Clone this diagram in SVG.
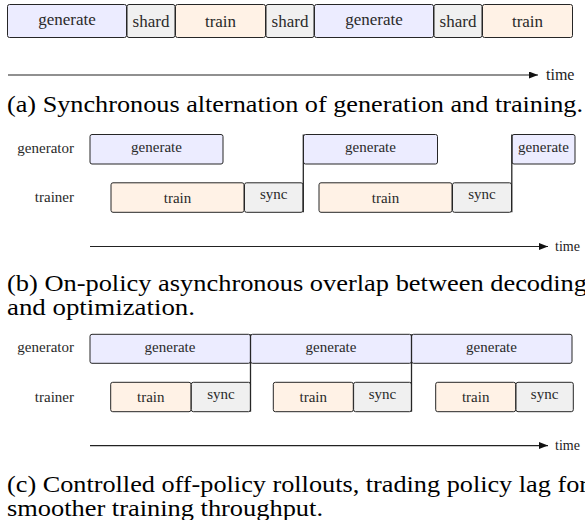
<svg xmlns="http://www.w3.org/2000/svg" width="585" height="520" viewBox="0 0 585 520">
<style>
  .box { stroke: #262626; stroke-width: 1; }
  .gen { fill: #ECECFF; }
  .trn { fill: #FFF2E6; }
  .sh  { fill: #F0F0F0; }
  text { font-family: 'Liberation Serif', 'DejaVu Serif', serif; }
  .lbl { fill: #2a2a2a; text-anchor: middle; }
  .la  { font-size: 17px; }
  .lb  { font-size: 15px; }
  .row { fill: #2a2a2a; font-size: 15px; text-anchor: end; }
  .time { fill: #222; }
  .cap { fill: #000; font-size: 24px; }
  .axis { stroke: #222; stroke-width: 1.1; fill: none; }
  .link { stroke: #262626; stroke-width: 1.3; fill: none; }
</style>
<defs>
  <marker id="arr" markerUnits="userSpaceOnUse" markerWidth="10" markerHeight="8" refX="9" refY="3.5" orient="auto">
    <path d="M0,0 L9,3.5 L0,7 z" fill="#111"/>
  </marker>
</defs>

<!-- Panel (a) -->
<g id="a-gen1"><rect class="box gen" x="7.5" y="4.5" width="119" height="33" rx="2"/><text class="lbl la" x="67" y="24.5">generate</text></g>
<g id="a-shard1"><rect class="box sh" x="127" y="4.5" width="48" height="33" rx="2"/><text class="lbl la" x="151" y="26.6">shard</text></g>
<g id="a-train1"><rect class="box trn" x="175.5" y="4.5" width="90" height="33" rx="2"/><text class="lbl la" x="220.5" y="26.6">train</text></g>
<g id="a-shard2"><rect class="box sh" x="266" y="4.5" width="48" height="33" rx="2"/><text class="lbl la" x="290" y="26.6">shard</text></g>
<g id="a-gen2"><rect class="box gen" x="314.5" y="4.5" width="119" height="33" rx="2"/><text class="lbl la" x="374" y="24.5">generate</text></g>
<g id="a-shard3"><rect class="box sh" x="434" y="4.5" width="48" height="33" rx="2"/><text class="lbl la" x="458" y="26.6">shard</text></g>
<g id="a-train2"><rect class="box trn" x="482.5" y="4.5" width="90" height="33" rx="2"/><text class="lbl la" x="527.5" y="26.6">train</text></g>
<g id="a-axis">
  <line class="axis" x1="8" y1="75" x2="538" y2="75" marker-end="url(#arr)"/>
  <text class="time" x="546" y="80" font-size="16">time</text>
</g>
<text class="cap" x="7" y="112" textLength="576" lengthAdjust="spacingAndGlyphs">(a) Synchronous alternation of generation and training.</text>

<!-- Panel (b) -->
<text class="row" x="74" y="152.5">generator</text>
<text class="row" x="74" y="202.3">trainer</text>
<g id="b-gen1"><rect class="box gen" x="90" y="134.5" width="133" height="29.5" rx="2"/><text class="lbl lb" x="156.5" y="152">generate</text></g>
<g id="b-train1"><rect class="box trn" x="111" y="182.8" width="133" height="29.5" rx="2"/><text class="lbl lb" x="177.5" y="202.5">train</text></g>
<g id="b-sync1"><rect class="box sh" x="244.5" y="182.8" width="58.5" height="29.5" rx="2"/><text class="lbl lb" x="273.7" y="199.2">sync</text></g>
<g id="b-gen2"><rect class="box gen" x="303.5" y="134.5" width="134" height="29.5" rx="2"/><text class="lbl lb" x="370.5" y="152">generate</text></g>
<g id="b-train2"><rect class="box trn" x="319" y="182.8" width="133" height="29.5" rx="2"/><text class="lbl lb" x="385.5" y="202.5">train</text></g>
<g id="b-sync2"><rect class="box sh" x="452.5" y="182.8" width="59" height="29.5" rx="2"/><text class="lbl lb" x="482" y="199.2">sync</text></g>
<g id="b-gen3"><rect class="box gen" x="512" y="134.5" width="63" height="29.5" rx="2"/><text class="lbl lb" x="543.5" y="152">generate</text></g>
<g id="b-axis">
  <line class="axis" x1="90" y1="246.5" x2="548" y2="246.5" marker-end="url(#arr)"/>
  <text class="time" x="555" y="251" font-size="14">time</text>
</g>
<text class="cap" x="7" y="291" textLength="580" lengthAdjust="spacingAndGlyphs">(b) On-policy asynchronous overlap between decoding</text>
<text class="cap" x="7" y="315" textLength="188" lengthAdjust="spacingAndGlyphs">and optimization.</text>

<!-- Panel (c) -->
<text class="row" x="74" y="351.8">generator</text>
<text class="row" x="74" y="401.8">trainer</text>
<g id="c-gen1"><rect class="box gen" x="90" y="334.3" width="160.5" height="29" rx="2"/><text class="lbl lb" x="170" y="351.5">generate</text></g>
<g id="c-gen2"><rect class="box gen" x="250.5" y="334.3" width="161" height="29" rx="2"/><text class="lbl lb" x="331" y="351.5">generate</text></g>
<g id="c-gen3"><rect class="box gen" x="411.5" y="334.3" width="160.5" height="29" rx="2"/><text class="lbl lb" x="491.5" y="351.5">generate</text></g>
<g id="c-train1"><rect class="box trn" x="110.7" y="382.3" width="80.3" height="29.4" rx="2"/><text class="lbl lb" x="150.8" y="402">train</text></g>
<g id="c-sync1"><rect class="box sh" x="191.3" y="382.3" width="59.2" height="29.4" rx="2"/><text class="lbl lb" x="220.9" y="398.7">sync</text></g>
<g id="c-train2"><rect class="box trn" x="273.3" y="382.3" width="80" height="29.4" rx="2"/><text class="lbl lb" x="313.3" y="402">train</text></g>
<g id="c-sync2"><rect class="box sh" x="353.6" y="382.3" width="57.9" height="29.4" rx="2"/><text class="lbl lb" x="382.5" y="398.7">sync</text></g>
<g id="c-train3"><rect class="box trn" x="435.7" y="382.3" width="80" height="29.4" rx="2"/><text class="lbl lb" x="475.7" y="402">train</text></g>
<g id="c-sync3"><rect class="box sh" x="516" y="382.3" width="57.3" height="29.4" rx="2"/><text class="lbl lb" x="544.6" y="398.7">sync</text></g>
<g id="c-axis">
  <line class="axis" x1="90" y1="445.6" x2="548" y2="445.6" marker-end="url(#arr)"/>
  <text class="time" x="555" y="450" font-size="14">time</text>
</g>
<text class="cap" x="7" y="492" textLength="581" lengthAdjust="spacingAndGlyphs">(c) Controlled off-policy rollouts, trading policy lag for</text>
<text class="cap" x="7" y="516" textLength="316" lengthAdjust="spacingAndGlyphs">smoother training throughput.</text>

<!-- Connectors -->
<g id="connectors">
  <line class="link" x1="303.3" y1="134.5" x2="303.3" y2="212.3"/>
  <line class="link" x1="511.8" y1="134.5" x2="511.8" y2="212.3"/>
  <line class="link" x1="250.5" y1="334.3" x2="250.5" y2="411.7"/>
  <line class="link" x1="411.5" y1="334.3" x2="411.5" y2="411.7"/>
</g>
</svg>
